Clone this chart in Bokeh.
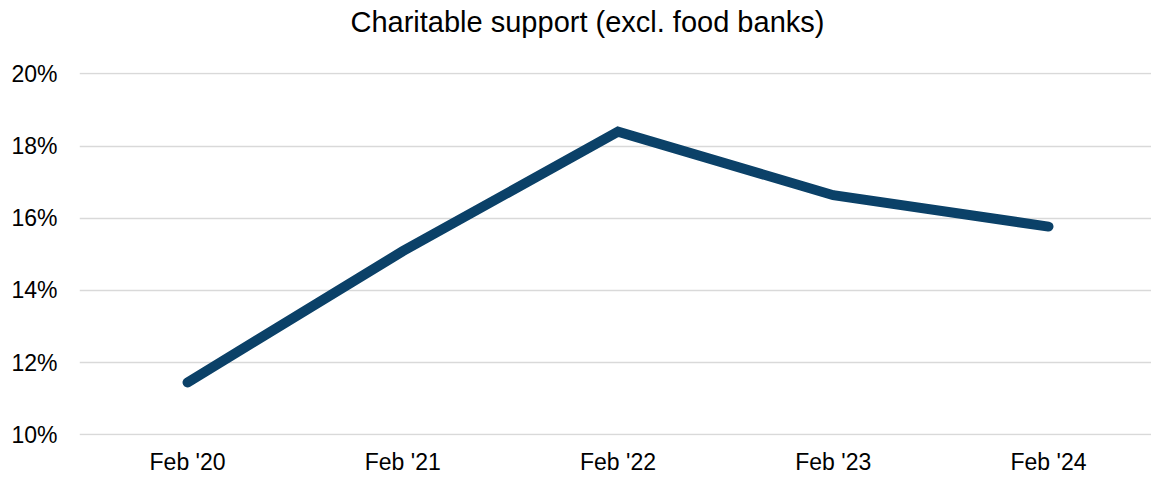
from bokeh.plotting import figure
from bokeh.models import Range1d, FixedTicker, NumeralTickFormatter, Title
from bokeh.embed import file_html
from bokeh.resources import INLINE

# Data
title_text = "Charitable support (excl. food banks)"
categories = ["Feb '20", "Feb '21", "Feb '22", "Feb '23", "Feb '24"]
share = [0.1145, 0.1509, 0.1840, 0.1664, 0.1577]
y_ticks = [0.10, 0.12, 0.14, 0.16, 0.18, 0.20]

xs = list(range(len(categories)))

FONT = "Liberation Sans"

p = figure(
    width=1151, height=477,
    output_backend="svg", toolbar_location=None,
    x_range=Range1d(-0.502, 4.4785),
    y_range=Range1d(0.0998, 0.2004),
    min_border_left=79, min_border_right=0, min_border_top=0, min_border_bottom=42,
)

p.outline_line_color = None
p.background_fill_color = "white"
p.border_fill_color = "white"

p.line(xs, share, line_color="#0b4168", line_width=10, line_cap="round", line_join="miter")

# blank gap between title and plot area
gap = Title(text=" ", text_font=FONT, text_font_size="10px", standoff=15,
            text_color="white")
p.add_layout(gap, "above")

# chart title
title = Title(text=title_text, text_font=FONT, text_font_size="29px",
              text_font_style="normal", text_color="#000000",
              align="left", vertical_align="top", offset=271, standoff=10)
p.add_layout(title, "above")

# axes
p.xaxis.ticker = FixedTicker(ticks=xs)
p.xaxis.major_label_overrides = {i: c for i, c in enumerate(categories)}
p.yaxis.ticker = FixedTicker(ticks=y_ticks)
p.yaxis.formatter = NumeralTickFormatter(format="0%")

for ax in (p.xaxis, p.yaxis):
    ax.axis_line_color = None
    ax.major_tick_line_color = None
    ax.minor_tick_line_color = None
    ax.major_tick_out = 0
    ax.major_tick_in = 0
    ax.major_label_text_font = FONT
    ax.major_label_text_font_size = "23px"
    ax.major_label_text_color = "#000000"

p.xaxis.major_label_standoff = 13
p.yaxis.major_label_standoff = 22

p.xgrid.grid_line_color = None
p.ygrid.grid_line_color = "#d9d9d9"
p.ygrid.grid_line_width = 1.6

open("out.html", "w").write(file_html(p, INLINE))
